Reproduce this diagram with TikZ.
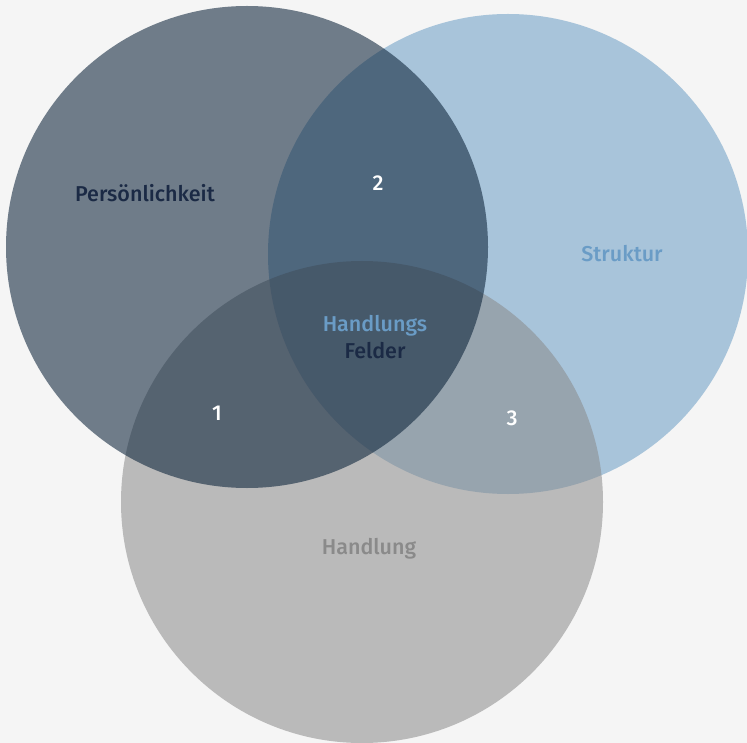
\documentclass[tikz,border=0pt]{standalone}
\usepackage{fontspec}
\setmainfont{Fira Sans}[UprightFont={* Medium}]
\usetikzlibrary{positioning}
\definecolor{bgray}{HTML}{F5F5F5}
\definecolor{persnavy}{HTML}{0A2138}
\definecolor{strukblue}{HTML}{A8C4DA}
\definecolor{handgray}{HTML}{8A8A8A}
\definecolor{txtnavy}{HTML}{1B2A45}
\definecolor{txtblue}{HTML}{6A9CC6}
\definecolor{txtgray}{HTML}{8A8A8A}

\tikzset{
	lbl/.style={font=\fontsize{21.5}{25}\selectfont, inner sep=0pt, anchor=base},
	num/.style={lbl, white}
}

\begin{document}
\begin{tikzpicture}[x=1pt, y=-1pt]
	\useasboundingbox[fill=bgray] (0,0) rectangle (747,743);

	% circles, back to front
	\fill[strukblue] (508,254) circle (240);
	\fill[handgray, opacity=0.55] (362,502) circle (241);
	\fill[persnavy, opacity=0.57] (247,247) circle (241);

	\node[lbl, txtnavy] (pers) at (145,202) {Persönlichkeit};
	\node[lbl, txtblue] (struk) at (622,262) {Struktur};
	\node[lbl, txtgray] (hand) at (369,554) {Handlung};

	\node[lbl, txtblue] (hfa) at (375,331) {Handlungs};
	\node[lbl, txtnavy] (hfb) at (375,358) {Felder};

	\node[num] (n1) at (217,420) {1};
	\node[num] (n2) at (378,191) {2};
	\node[num] (n3) at (512,425) {3};
\end{tikzpicture}
\end{document}
